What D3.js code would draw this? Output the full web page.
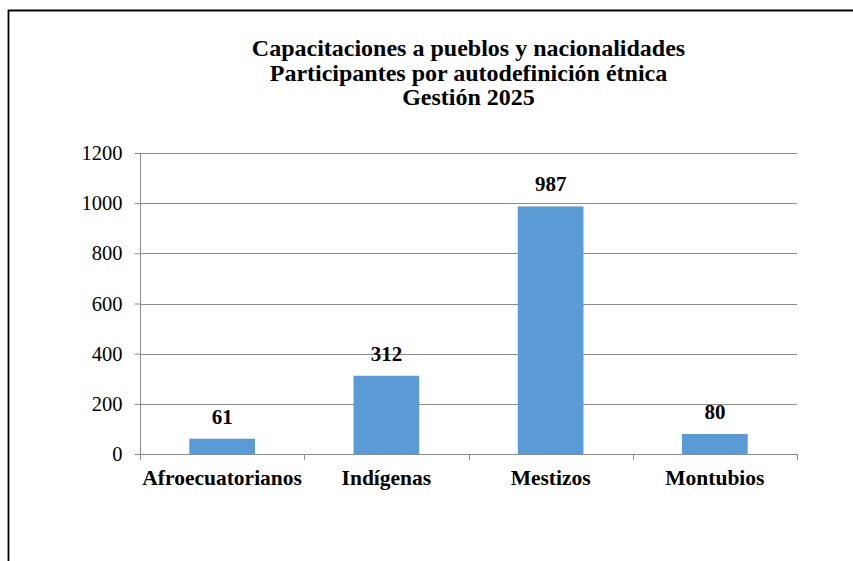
<!DOCTYPE html>
<html>
<head>
<meta charset="utf-8">
<script src="https://cdn.jsdelivr.net/npm/d3@7/dist/d3.min.js"></script>
<style>
  html, body { margin: 0; padding: 0; background: #fff; }
  svg text { font-family: "Liberation Serif", "Times New Roman", Tinos, "DejaVu Serif", serif !important; }
</style>
</head>
<body>
<svg id="chart" width="853" height="561"></svg>
<script>
// Participantes por autodefinición étnica
const categories = ["Afroecuatorianos", "Indígenas", "Mestizos", "Montubios"];
const participants = [61, 312, 987, 80];
const yTicks = [0, 200, 400, 600, 800, 1000, 1200];
const titleLines = [
  "Capacitaciones a pueblos y nacionalidades",
  "Participantes por autodefinición étnica",
  "Gestión 2025"
];

const svg = d3.select("#chart");
const plot = { left: 140, right: 797, top: 153, bottom: 454 };
const gridColor = "#8c8c8c";

// outer frame (only the top and left edges fall inside the page)
svg.append("path")
  .attr("d", "M8.5,561 V10.5 H853")
  .attr("fill", "none")
  .attr("stroke", "#000")
  .attr("stroke-width", 1.8);

const x = d3.scaleBand()
  .domain(categories)
  .range([plot.left, plot.right])
  .paddingInner(0)
  .paddingOuter(0);

const y = d3.scaleLinear()
  .domain([0, 1200])
  .range([plot.bottom, plot.top]);

// title
svg.append("g")
  .selectAll("text")
  .data(titleLines)
  .join("text")
  .attr("x", (plot.left + plot.right) / 2)
  .attr("y", (d, i) => 56 + i * 24.5)
  .attr("text-anchor", "middle")
  .attr("font-weight", "bold")
  .attr("font-size", 24)
  .attr("fill", "#000")
  .text(d => d);

// horizontal gridlines
svg.append("g")
  .selectAll("line")
  .data(yTicks.filter(t => t > 0))
  .join("line")
  .attr("x1", plot.left)
  .attr("x2", plot.right)
  .attr("y1", d => Math.round(y(d)) + 0.5)
  .attr("y2", d => Math.round(y(d)) + 0.5)
  .attr("stroke", gridColor)
  .attr("stroke-width", 1);

// bars
const barWidth = x.bandwidth() * 0.4;
svg.append("g")
  .selectAll("rect")
  .data(categories)
  .join("rect")
  .attr("x", d => x(d) + (x.bandwidth() - barWidth) / 2)
  .attr("width", barWidth)
  .attr("y", (d, i) => y(participants[i]))
  .attr("height", (d, i) => y(0) - y(participants[i]))
  .attr("fill", "#5b9bd5");

// value labels
svg.append("g")
  .selectAll("text")
  .data(categories)
  .join("text")
  .attr("x", d => x(d) + x.bandwidth() / 2)
  .attr("y", (d, i) => y(participants[i]) - 15)
  .attr("text-anchor", "middle")
  .attr("font-weight", "bold")
  .attr("font-size", 21)
  .attr("fill", "#000")
  .text((d, i) => participants[i]);

// y axis
const yAxis = svg.append("g")
  .attr("transform", `translate(${plot.left + 0.5},0)`)
  .call(d3.axisLeft(y).tickValues(yTicks).tickSize(6).tickPadding(12).tickFormat(d3.format("d")));
yAxis.select(".domain").attr("stroke", gridColor).attr("d", `M0,${plot.top}V${plot.bottom}`);
yAxis.selectAll(".tick line").attr("stroke", gridColor);
yAxis.selectAll(".tick text")
  .attr("font-size", 20.5)
  .attr("fill", "#000");

// x axis: boundary ticks between categories
const boundaries = categories.map(c => x(c)).concat([plot.right]);
const xAxis = svg.append("g");
xAxis.append("line")
  .attr("x1", plot.left)
  .attr("x2", plot.right + 0.5)
  .attr("y1", Math.round(y(0)) + 0.5)
  .attr("y2", Math.round(y(0)) + 0.5)
  .attr("stroke", gridColor);
xAxis.selectAll("line.b")
  .data(boundaries)
  .join("line")
  .attr("class", "b")
  .attr("x1", d => Math.round(d) + 0.5)
  .attr("x2", d => Math.round(d) + 0.5)
  .attr("y1", Math.round(y(0)))
  .attr("y2", Math.round(y(0)) + 6)
  .attr("stroke", gridColor);

// category labels
svg.append("g")
  .selectAll("text")
  .data(categories)
  .join("text")
  .attr("x", d => x(d) + x.bandwidth() / 2)
  .attr("y", 485)
  .attr("text-anchor", "middle")
  .attr("font-weight", "bold")
  .attr("font-size", 21.5)
  .attr("fill", "#000")
  .text(d => d);
</script>
</body>
</html>
